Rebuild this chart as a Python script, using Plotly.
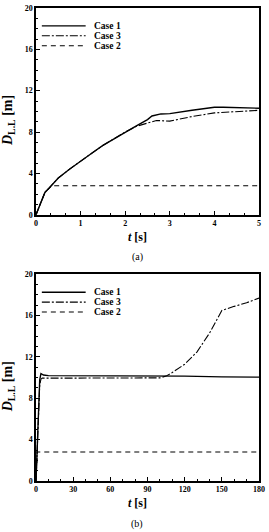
import plotly.graph_objects as go

# ---- Panel (a) data ----
ta1 = [0, 0.2, 0.3, 0.4, 0.5, 0.75, 1.0, 1.25, 1.5, 1.75, 2.0, 2.25, 2.5, 2.6, 2.8, 3.0, 3.5, 4.0, 4.2, 5.0]
da1 = [0, 2.15, 2.6, 3.1, 3.55, 4.4, 5.2, 5.95, 6.7, 7.35, 8.0, 8.6, 9.2, 9.55, 9.75, 9.78, 10.1, 10.4, 10.4, 10.3]
ta3 = [0, 0.2, 0.3, 0.4, 0.5, 0.75, 1.0, 1.25, 1.5, 1.75, 2.0, 2.25, 2.5, 2.7, 3.0, 3.5, 4.0, 5.0]
da3 = [0, 2.15, 2.6, 3.1, 3.55, 4.4, 5.2, 5.95, 6.7, 7.35, 8.0, 8.55, 8.9, 9.12, 9.05, 9.5, 9.85, 10.1]
ta2 = [0, 0.2, 0.3, 0.35, 5.0]
da2 = [0, 2.15, 2.6, 2.8, 2.8]

# ---- Panel (b) data ----
tb1 = [0, 1, 2, 3, 4, 6, 10, 30, 60, 90, 105, 120, 150, 180]
db1 = [0, 4.0, 7.5, 9.8, 10.4, 10.25, 10.2, 10.2, 10.2, 10.2, 10.18, 10.15, 10.08, 10.05]
tb3 = [0, 1, 2, 3, 4, 5, 10, 30, 60, 90, 100, 105, 110, 120, 130, 140, 145, 150, 160, 170, 180]
db3 = [0, 3.5, 7.0, 9.3, 9.85, 9.95, 9.95, 9.95, 9.95, 9.95, 9.98, 10.15, 10.5, 11.3, 12.5, 14.3, 15.4, 16.5, 16.9, 17.25, 17.7]
tb2 = [0, 0.5, 1.0, 180]
db2 = [0, 2.0, 2.8, 2.8]

names = ["Case 1", "Case 3", "Case 2"]
dashes = ["solid", "8px,2px,2px,2px", "5px,4px"]
widths = [1.4, 1.1, 1.1]
captions = ["(a)", "(b)"]

FONT = "Liberation Serif"

# layout geometry (pixels)
W, H = 269, 532
ML, MR, MT, MB = 36, 4, 5, 51
PW, PH = W - ML - MR, H - MT - MB
def py(p):  # pixel y -> paper y
    return (H - MB - p) / PH
def px(p):
    return (p - ML) / PW

fig = go.Figure()

panels = [
    ([ta1, ta3, ta2], [da1, da3, da2], "x", "y"),
    ([tb1, tb3, tb2], [db1, db3, db2], "x2", "y2"),
]
for ts, ds, xa, ya in panels:
    for t, d, n, dsh, w in zip(ts, ds, names, dashes, widths):
        fig.add_trace(go.Scatter(
            x=t, y=d, mode="lines", name=n, xaxis=xa, yaxis=ya, showlegend=False,
            line=dict(color="black", width=w, dash=dsh),
        ))

axis_common = dict(
    showline=True, linecolor="black", linewidth=1.5, mirror=True,
    ticks="inside", ticklen=4, tickwidth=1, tickcolor="black",
    showgrid=False, zeroline=False,
    tickfont=dict(family=FONT, size=8, color="black", weight="bold"),
    minor=dict(ticks="inside", ticklen=2, tickwidth=1, tickcolor="black"),
)

top_dom = [py(213), 1.0]
bot_dom = [0.0, py(273)]

fig.update_layout(
    width=W, height=H,
    margin=dict(l=ML, r=MR, t=MT, b=MB),
    paper_bgcolor="white", plot_bgcolor="white",
    font=dict(family=FONT, color="black"),
    xaxis=dict(domain=[0, 1], anchor="y", range=[0, 5], dtick=1, minor_dtick=1/3, **axis_common),
    yaxis=dict(domain=top_dom, anchor="x", range=[0, 20], dtick=4, minor_dtick=1, **axis_common),
    xaxis2=dict(domain=[0, 1], anchor="y2", range=[0, 180], dtick=30, minor_dtick=10, **axis_common),
    yaxis2=dict(domain=bot_dom, anchor="x2", range=[0, 20], dtick=4, minor_dtick=1, **axis_common),
    showlegend=False,
)

# manual legends (one per panel)
shapes = []
ann = []
legend_rows = [[23, 33, 43], [291, 301, 311]]
for rows in legend_rows:
    for r, n, dsh, w in zip(rows, names, dashes, widths):
        shapes.append(dict(type="line", xref="paper", yref="paper",
                           x0=px(42), x1=px(87), y0=py(r), y1=py(r),
                           line=dict(color="black", width=w, dash=dsh)))
        ann.append(dict(text="<b>%s</b>" % n, xref="paper", yref="paper", x=px(94), y=py(r),
                        xanchor="left", yanchor="middle", showarrow=False,
                        font=dict(family=FONT, size=9.5)))

ytitle = "<b><i>D</i><sub>L.L</sub> [m]</b>"
xtitle = "<b><i>t</i> [s]</b>"
for cy in [118, 386]:
    ann.append(dict(text=ytitle, textangle=-90, xref="paper", yref="paper", x=px(8), y=py(cy),
                    xanchor="center", yanchor="middle", showarrow=False, font=dict(family=FONT, size=14)))
for ay, cap in zip([213, 481], captions):
    ann.append(dict(text=xtitle, xref="paper", yref="paper", x=px(140), y=py(ay + 22),
                    xanchor="center", yanchor="middle", showarrow=False, font=dict(family=FONT, size=12)))
    ann.append(dict(text=cap, xref="paper", yref="paper", x=px(140), y=py(ay + 43),
                    xanchor="center", yanchor="middle", showarrow=False, font=dict(family=FONT, size=10)))
fig.update_layout(annotations=ann, shapes=shapes)

fig.write_html("out.html")
